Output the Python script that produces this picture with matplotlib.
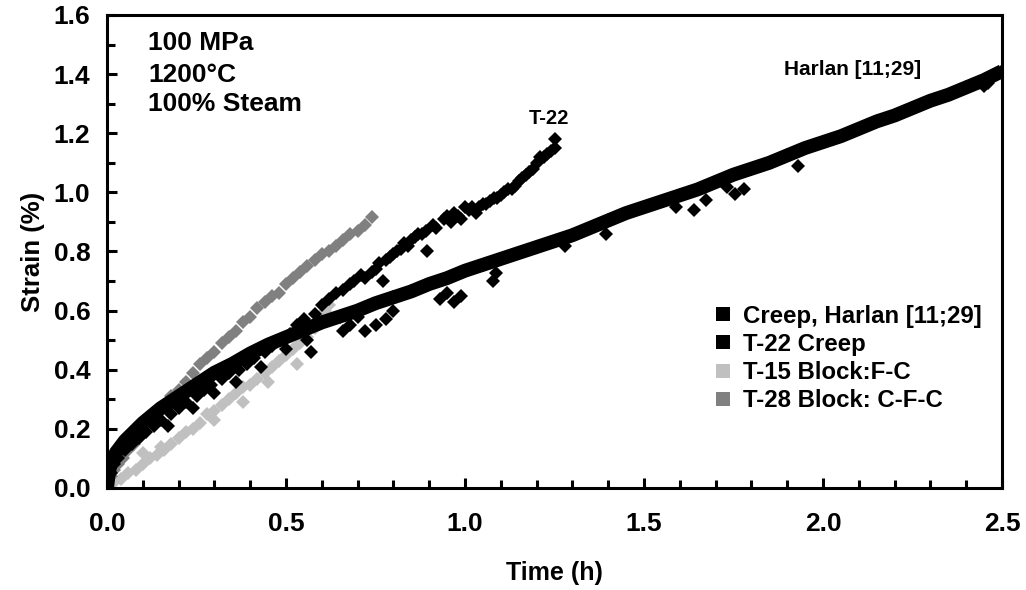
import matplotlib
matplotlib.use('Agg')
import matplotlib.pyplot as plt
from matplotlib.ticker import MultipleLocator, FormatStrFormatter
from matplotlib.lines import Line2D

plt.rcParams['font.family'] = ['Liberation Sans', 'DejaVu Sans']
plt.rcParams['font.weight'] = 'bold'

# Creep, Harlan [11;29] - main band
harlan_t = [0.0, 0.005, 0.01, 0.025, 0.05, 0.075, 0.1, 0.15, 0.2, 0.25, 0.3, 0.35,
            0.4, 0.45, 0.5, 0.55, 0.6, 0.65, 0.7, 0.75, 0.8, 0.85, 0.9, 0.95,
            1.0, 1.05, 1.1, 1.15, 1.2, 1.25, 1.3, 1.35, 1.4, 1.45, 1.5, 1.55,
            1.6, 1.65, 1.7, 1.75, 1.8, 1.85, 1.9, 1.95, 2.0, 2.05, 2.1, 2.15,
            2.2, 2.25, 2.3, 2.35, 2.4, 2.45, 2.5]
harlan_s = [0.0, 0.05, 0.08, 0.12, 0.16, 0.19, 0.22, 0.27, 0.31, 0.35, 0.39, 0.42,
            0.455, 0.485, 0.51, 0.535, 0.56, 0.58, 0.60, 0.625, 0.645, 0.665, 0.69, 0.71,
            0.735, 0.755, 0.775, 0.795, 0.815, 0.835, 0.855, 0.88, 0.905, 0.93, 0.95, 0.97,
            0.99, 1.01, 1.035, 1.06, 1.08, 1.10, 1.125, 1.15, 1.17, 1.19, 1.215, 1.24,
            1.26, 1.285, 1.31, 1.33, 1.355, 1.38, 1.41]
# scattered Harlan points below the band
harlan_out_t = [0.66, 0.68, 0.70, 0.72, 0.75, 0.78, 0.80, 0.93, 0.95, 0.97, 0.99, 1.078,
                1.086, 1.28, 1.394, 1.59, 1.64, 1.674, 1.733, 1.755, 1.78, 1.93, 2.45, 2.46]
harlan_out_s = [0.53, 0.55, 0.58, 0.53, 0.55, 0.57, 0.60, 0.64, 0.66, 0.63, 0.65, 0.70,
                0.727, 0.82, 0.86, 0.95, 0.94, 0.974, 1.018, 0.995, 1.01, 1.09, 1.36, 1.37]

# T-22 Creep
t22_t = [0.0, 0.01, 0.02, 0.03, 0.05, 0.07, 0.09, 0.11, 0.13, 0.15, 0.17, 0.18, 0.2,
         0.22, 0.24, 0.25, 0.27, 0.29, 0.3, 0.32, 0.34, 0.36, 0.37, 0.39, 0.41, 0.43,
         0.44, 0.46, 0.48, 0.5, 0.51, 0.53, 0.55, 0.56, 0.57, 0.58, 0.6, 0.62, 0.64,
         0.66, 0.68, 0.69, 0.71, 0.72, 0.74, 0.75, 0.77, 0.76, 0.78, 0.79, 0.80, 0.81,
         0.82, 0.83, 0.84, 0.85, 0.86, 0.87, 0.88, 0.895, 0.89, 0.91, 0.92, 0.94, 0.95,
         0.96, 0.97, 0.98, 0.99, 1.0, 1.01, 1.02, 1.03, 1.04, 1.05, 1.06, 1.07, 1.08,
         1.09, 1.1, 1.11, 1.12, 1.13, 1.14, 1.15, 1.16, 1.17, 1.18, 1.19, 1.2, 1.21,
         1.22, 1.23, 1.24, 1.25, 1.25]
t22_s = [0.02, 0.05, 0.08, 0.10, 0.13, 0.15, 0.17, 0.19, 0.21, 0.23, 0.21, 0.25, 0.27,
         0.29, 0.27, 0.31, 0.33, 0.35, 0.32, 0.37, 0.39, 0.36, 0.40, 0.42, 0.44, 0.41,
         0.46, 0.48, 0.50, 0.47, 0.52, 0.55, 0.57, 0.50, 0.46, 0.59, 0.62, 0.64, 0.66,
         0.67, 0.69, 0.70, 0.72, 0.71, 0.73, 0.74, 0.70, 0.76, 0.77, 0.78, 0.79, 0.80,
         0.81, 0.83, 0.82, 0.84, 0.85, 0.86, 0.86, 0.80, 0.87, 0.89, 0.88, 0.91, 0.92,
         0.90, 0.93, 0.92, 0.91, 0.95, 0.94, 0.95, 0.93, 0.95, 0.96, 0.96, 0.97, 0.98,
         0.98, 0.99, 1.00, 1.01, 1.01, 1.02, 1.04, 1.05, 1.06, 1.07, 1.08, 1.10, 1.12,
         1.12, 1.13, 1.14, 1.15, 1.18]

# T-15 Block:F-C
t15_t = [0.0, 0.02, 0.04, 0.06, 0.08, 0.1, 0.12, 0.14, 0.16, 0.18, 0.2, 0.22, 0.24,
         0.26, 0.28, 0.3, 0.32, 0.34, 0.36, 0.38, 0.4, 0.42, 0.44, 0.46, 0.48, 0.5,
         0.52, 0.54, 0.56, 0.58, 0.6, 0.61, 0.62,
         0.1, 0.15, 0.3, 0.38, 0.45, 0.53]
t15_s = [0.0, 0.02, 0.03, 0.05, 0.06, 0.08, 0.10, 0.11, 0.13, 0.15, 0.17, 0.19, 0.20,
         0.22, 0.25, 0.26, 0.28, 0.30, 0.32, 0.34, 0.35, 0.37, 0.39, 0.41, 0.43, 0.45,
         0.47, 0.49, 0.51, 0.54, 0.57, 0.60, 0.62,
         0.12, 0.14, 0.23, 0.29, 0.36, 0.42]

# T-28 Block: C-F-C
t28_t = [0.0, 0.01, 0.02, 0.03, 0.045, 0.06, 0.075, 0.09, 0.1, 0.12, 0.14, 0.16, 0.18,
         0.2, 0.22, 0.24, 0.26, 0.28, 0.3, 0.32, 0.34, 0.36, 0.38, 0.4, 0.42, 0.44,
         0.46, 0.48, 0.5, 0.52, 0.54, 0.56, 0.58, 0.6, 0.62, 0.64, 0.66, 0.68, 0.7,
         0.72, 0.74]
t28_s = [0.01, 0.04, 0.06, 0.08, 0.10, 0.13, 0.15, 0.17, 0.19, 0.22, 0.25, 0.28, 0.31,
         0.33, 0.36, 0.39, 0.42, 0.44, 0.46, 0.49, 0.51, 0.53, 0.56, 0.58, 0.61, 0.63,
         0.65, 0.66, 0.69, 0.71, 0.73, 0.75, 0.77, 0.79, 0.80, 0.82, 0.84, 0.86, 0.87,
         0.89, 0.915]

fig = plt.figure(figsize=(10.26, 5.9), dpi=100)
ax = fig.add_axes([0.1043, 0.1729, 0.8723, 0.8017])

ms = 6.8
ax.plot(t15_t, t15_s, 'D', color='#c0c0c0', ms=ms, mew=0, zorder=2)
ax.plot(t28_t, t28_s, 'D', color='#808080', ms=ms, mew=0, zorder=3)
ax.plot(harlan_t, harlan_s, '-', color='black', lw=10, solid_capstyle='butt', zorder=4)
ax.plot(harlan_t, harlan_s, 'D', color='black', ms=ms, mew=0, zorder=4)
ax.plot(harlan_out_t, harlan_out_s, 'D', color='black', ms=ms, mew=0, zorder=4)
ax.plot(t22_t, t22_s, 'D', color='black', ms=ms, mew=0, zorder=5)

ax.set_xlim(0, 2.5)
ax.set_ylim(0, 1.6)
ax.xaxis.set_major_locator(MultipleLocator(0.5))
ax.xaxis.set_minor_locator(MultipleLocator(0.1))
ax.yaxis.set_major_locator(MultipleLocator(0.2))
ax.yaxis.set_minor_locator(MultipleLocator(0.1))
ax.xaxis.set_major_formatter(FormatStrFormatter('%.1f'))
ax.yaxis.set_major_formatter(FormatStrFormatter('%.1f'))
ax.tick_params(axis='x', which='both', direction='in', width=2.2, top=False)
ax.tick_params(axis='y', which='both', direction='in', width=2.2, right=False)
ax.tick_params(which='major', length=7, labelsize=19)
ax.tick_params(which='minor', length=6)
ax.tick_params(axis='x', which='major', pad=17)
ax.tick_params(axis='y', which='major', pad=12)
for lab in ax.get_xticklabels() + ax.get_yticklabels():
    lab.set_fontweight('bold')
for sp in ax.spines.values():
    sp.set_linewidth(2.2)

ax.set_xlabel('Time (h)', fontsize=18, fontweight='bold', labelpad=18)
ax.set_ylabel('Strain (%)', fontsize=18.5, fontweight='bold', labelpad=6)

ax.text(0.115, 1.505, '100 MPa', fontsize=19, fontweight='bold', va='center')
ax.text(0.115, 1.397, '1200°C', fontsize=19, fontweight='bold', va='center')
ax.text(0.115, 1.299, '100% Steam', fontsize=19, fontweight='bold', va='center')
ax.text(1.235, 1.25, 'T-22', fontsize=14.5, fontweight='bold', ha='center', va='center')
ax.text(2.083, 1.414, 'Harlan [11;29]', fontsize=15, fontweight='bold', ha='center', va='center')

handles = [Line2D([], [], ls='none', marker='s', ms=10, color=c, mew=0)
           for c in ['black', 'black', '#c0c0c0', '#808080']]
labels = ['Creep, Harlan [11;29]', 'T-22 Creep', 'T-15 Block:F-C', 'T-28 Block: C-F-C']
ax.legend(handles, labels, loc='upper left', bbox_to_anchor=(0.665, 0.408),
          frameon=False, prop={'size': 17.3, 'weight': 'bold'},
          handletextpad=0.4, handlelength=0.9, labelspacing=0.22, borderaxespad=0)

fig.savefig('out.png', dpi=100)
